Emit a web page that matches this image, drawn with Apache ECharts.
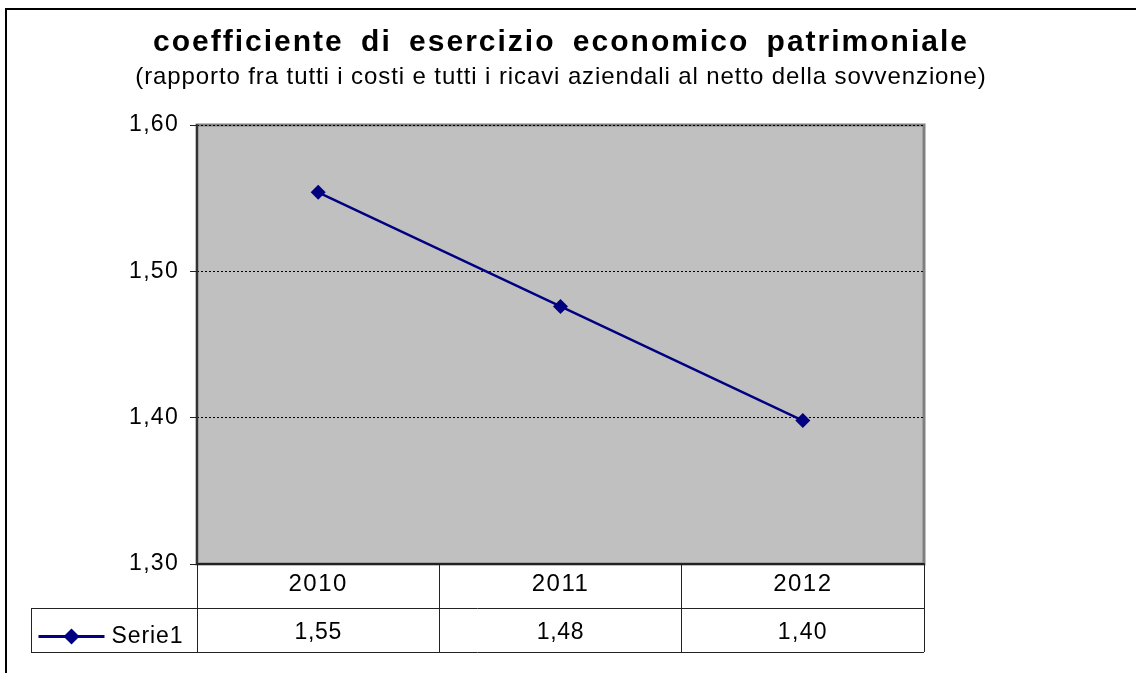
<!DOCTYPE html>
<html><head><meta charset="utf-8">
<script src="https://cdn.jsdelivr.net/npm/echarts@6/dist/echarts.min.js"></script>
<style>html,body{margin:0;padding:0;background:#fff}#c{width:1136px;height:673px}</style>
</head><body><div id="c"></div>
<script>
// ---- data ----
const titleText = 'coefficiente di esercizio economico patrimoniale';
const subtitleText = '(rapporto fra tutti i costi e tutti i ricavi aziendali al netto della sovvenzione)';
const categories = ['2010', '2011', '2012'];
const seriesName = 'Serie1';
const values = [1.554, 1.476, 1.398];
const yTicks = [1.30, 1.40, 1.50, 1.60];

const fmt = v => v.toFixed(2).replace('.', ',');
const FONT = 'Liberation Sans, Arial, sans-serif';

// ---- text spacing (imitates the spaced-out glyphs of the original) ----
const SPACING = {};
SPACING[titleText] = ['2px', '7px'];
SPACING[subtitleText] = ['0.9px', '0px'];
SPACING[seriesName] = ['0.9px', '0px'];
categories.forEach(c => { SPACING[c] = ['1.5px', '0px']; });
values.forEach(v => { SPACING[fmt(v)] = ['0.7px', '0px']; });
yTicks.forEach(v => { SPACING[fmt(v)] = ['1.3px', '0px']; });
const _fill = CanvasRenderingContext2D.prototype.fillText;
CanvasRenderingContext2D.prototype.fillText = function (t) {
  if (!('letterSpacing' in this)) return _fill.apply(this, arguments);
  const sp = SPACING[t] || ['1px', '0px'];
  const pl = this.letterSpacing, pw = this.wordSpacing;
  this.letterSpacing = sp[0];
  if ('wordSpacing' in this) this.wordSpacing = sp[1];
  const r = _fill.apply(this, arguments);
  this.letterSpacing = pl;
  if ('wordSpacing' in this) this.wordSpacing = pw;
  return r;
};

// ---- layout ----
const W = 1136, H = 673;
const G = { left: 197, top: 125, right: 212, bottom: 109 };
const plotR = W - G.right, plotB = H - G.bottom;
const rowH = 44;
const legendCellLeft = 31;

const chart = echarts.init(document.getElementById('c'), null, { renderer: 'canvas' });
chart.setOption({
  animation: false,
  backgroundColor: '#fff',
  title: [
    { text: titleText, left: 561, top: 28, padding: 0, textAlign: 'center',
      textStyle: { fontFamily: FONT, fontSize: 30, fontWeight: 'bold', color: '#000' } },
    { text: subtitleText, left: 561, top: 65, padding: 0, textAlign: 'center',
      textStyle: { fontFamily: FONT, fontSize: 24, fontWeight: 'normal', color: '#000' } }
  ],
  legend: {
    data: [seriesName], left: 37, top: 625, padding: 0,
    itemWidth: 66, itemHeight: 20, itemGap: 0,
    lineStyle: { width: 3 },
    textStyle: { fontFamily: FONT, fontSize: 23, color: '#000', padding: [0, 0, 0, 2] }
  },
  grid: {
    left: G.left, top: G.top, right: G.right, bottom: G.bottom,
    show: true, backgroundColor: '#C0C0C0', borderColor: '#808080', borderWidth: 3
  },
  xAxis: [
    {
      type: 'category', data: categories, boundaryGap: true, position: 'bottom',
      axisLine: { show: true, lineStyle: { color: '#222', width: 2 } },
      axisTick: { show: true, inside: false, length: rowH * 2, lineStyle: { color: '#222', width: 1 } },
      axisLabel: { margin: 8, fontFamily: FONT, fontSize: 24, color: '#000' },
      splitLine: { show: false }
    },
    {
      type: 'category', data: categories, boundaryGap: true, position: 'bottom',
      axisLine: { show: false }, axisTick: { show: false },
      axisLabel: { margin: 57, fontFamily: FONT, fontSize: 23, color: '#000',
        formatter: (v, i) => fmt(values[i]) },
      splitLine: { show: false }
    }
  ],
  yAxis: {
    type: 'value',
    min: yTicks[0], max: yTicks[yTicks.length - 1],
    interval: Math.round((yTicks[1] - yTicks[0]) * 100) / 100,
    axisLine: { show: true, lineStyle: { color: '#333', width: 2 } },
    axisTick: { show: true, inside: false, length: 7, lineStyle: { color: '#222', width: 1 } },
    axisLabel: { margin: 18, fontFamily: FONT, fontSize: 23, color: '#000', formatter: v => fmt(v) },
    splitLine: { show: true, lineStyle: { color: '#000', width: 1, type: [2, 2] } }
  },
  series: [{
    name: seriesName, type: 'line', data: values, xAxisIndex: 0,
    symbol: 'diamond', symbolSize: 15, showSymbol: true,
    lineStyle: { color: '#000080', width: 2.4 },
    itemStyle: { color: '#000080' },
    emphasis: { disabled: true }
  }],
  graphic: [
    { type: 'polyline', silent: true, z: 100,
      shape: { points: [[6, H], [6, 9], [W, 9]] },
      style: { stroke: '#000', lineWidth: 2, fill: null } },
    { type: 'line', silent: true, z: 100,
      shape: { x1: legendCellLeft, y1: plotB + rowH + 0.5, x2: plotR, y2: plotB + rowH + 0.5 },
      style: { stroke: '#222', lineWidth: 1 } },
    { type: 'line', silent: true, z: 100,
      shape: { x1: legendCellLeft, y1: plotB + rowH * 2 + 0.5, x2: plotR, y2: plotB + rowH * 2 + 0.5 },
      style: { stroke: '#222', lineWidth: 1 } },
    { type: 'line', silent: true, z: 100,
      shape: { x1: legendCellLeft + 0.5, y1: plotB + rowH, x2: legendCellLeft + 0.5, y2: plotB + rowH * 2 + 1 },
      style: { stroke: '#222', lineWidth: 1 } }
  ]
});
</script></body></html>
